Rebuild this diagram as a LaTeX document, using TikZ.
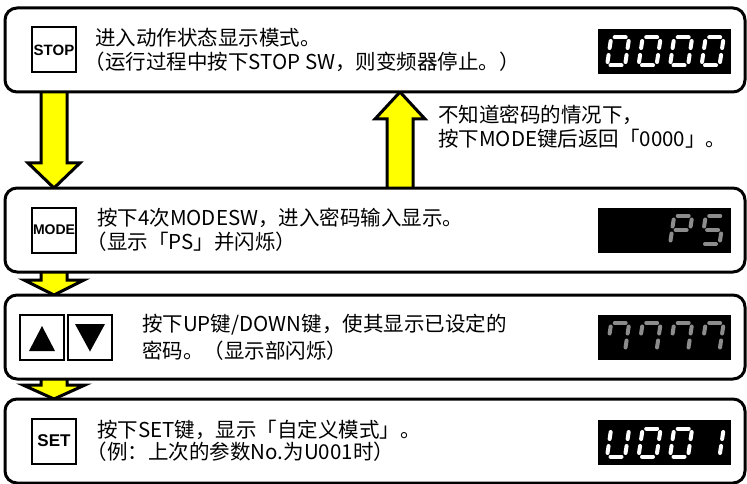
\documentclass[tikz,border=0pt]{standalone}
\usepackage{fontspec}
\setmainfont{Noto Sans CJK SC}
\newfontfamily\keyfont{Liberation Sans}
\usetikzlibrary{positioning, calc, backgrounds}

\definecolor{arrowyellow}{RGB}{255,255,0}
\definecolor{segdim}{RGB}{140,140,140}

% one digit of a seven segment display: position, segments, colour
\newcommand{\sevenseg}[3]{%
  \begin{scope}[shift={#1}, xslant=0.15]
    \foreach \s/\xa/\ya/\xb/\yb in {a/3.5/28/14.5/28, b/18/24.5/18/17.5,
        c/18/10.5/18/3.5, d/3.5/0/14.5/0, e/0/10.5/0/3.5,
        f/0/24.5/0/17.5, g/3.5/14/14.5/14}{
      \coordinate (\s1) at (\xa,\ya);
      \coordinate (\s2) at (\xb,\yb);
    }
    \foreach \s in {#2}
      \draw[segment, #3] (\s1) -- (\s2);
  \end{scope}}

% fat yellow arrow: from, to, shaft half width, head half width, head length
\newcommand{\blockarrow}[5]{%
  \draw[bigarrow] let \p1=#1, \p2=#2, \p3=($#2!#5!#1$) in
    (\x1-#3,\y1) -- (\x1-#3,\y3) -- (\x1-#4,\y3) -- (\x2,\y2)
    -- (\x1+#4,\y3) -- (\x1+#3,\y3) -- (\x1+#3,\y1);}

% pull a leading full-width bracket back to the margin
\newcommand{\lb}{\kern-0.5em}

\begin{document}
\begin{tikzpicture}[
    x=1pt, y=1pt,
    panel/.style={
        draw,
        line width=3pt,
        rounded corners=12pt,
        fill=white,
        minimum width=740pt,
        minimum height=84pt,
        inner sep=0pt,
        outer sep=0pt
    },
    keybox/.style={
        draw,
        line width=2pt,
        minimum width=44pt,
        minimum height=45pt,
        inner sep=0pt,
        outer sep=0pt
    },
    keylabel/.style={
        font=\keyfont\bfseries\fontsize{#1}{#1}\selectfont
    },
    textblk/.style={
        anchor=west,
        align=left,
        inner sep=0pt,
        font=\fontsize{20.5}{24}\selectfont
    },
    display/.style={
        fill=black,
        minimum width=133pt,
        minimum height=45pt,
        inner sep=0pt,
        outer sep=0pt
    },
    segment/.style={
        line width=4pt,
        line cap=round
    },
    bigarrow/.style={
        draw,
        fill=arrowyellow,
        line width=3pt,
        line join=miter
    }
]
\useasboundingbox (0,0) rectangle (747,-484);

\node[panel] (stopbox) at (375,-50) {};
\node[panel, below=96pt of stopbox] (modebox) {};
\node[panel, below=23pt of modebox] (pwdbox) {};
\node[panel, below=20pt of pwdbox] (setbox) {};

% keys
\node[keybox, keylabel=15, right=27pt of stopbox.west] (stopkey) {STOP};
\node[keybox, keylabel=14, right=27pt of modebox.west] (modekey) {MODE};
\node[keybox, right=15pt of pwdbox.west] (upkey) {};
\node[keybox, right=4pt of upkey] (downkey) {};
\node[keybox, keylabel=17, right=27pt of setbox.west] (setkey) {SET};

\fill (upkey.center) ++(0,11) -- ++(13,-25) -- ++(-26,0) -- cycle;
\fill (downkey.center) ++(0,-14.5) -- ++(15,27.5) -- ++(-30,0) -- cycle;

% texts
\node[textblk, right=19pt of stopkey] (stoptext)
{进入动作状态显示模式。\\\lb（运行过程中按下STOP SW，则变频器停止。）};

\node[textblk, right=21pt of modekey] (modetext)
{按下4次MODESW，进入密码输入显示。\\\lb（显示「PS」并闪烁）};

\node[textblk, right=30pt of downkey] (pwdtext)
{按下UP键/DOWN键，使其显示已设定的\\[3pt]密码。（显示部闪烁）};

\node[textblk, right=21pt of setkey] (settext)
{按下SET键，显示「自定义模式」。\\[-2pt]\lb（例：上次的参数No.为U001时）};

% displays
\node[display, left=14pt of stopbox.east, yshift=-1.5pt] (disp1) {};
\node[display, left=14pt of modebox.east] (disp2) {};
\node[display, left=14pt of pwdbox.east] (disp3) {};
\node[display, left=14pt of setbox.east, yshift=-1.5pt] (disp4) {};

\foreach \dx in {-57.5,-26,5.5,37}
  \sevenseg{($(disp1.center)+(\dx,-14)$)}{a,b,c,d,e,f}{white};

\sevenseg{($(disp2.center)+(5.5,-14)$)}{a,b,e,f,g}{segdim};
\sevenseg{($(disp2.center)+(37,-14)$)}{a,c,d,f,g}{segdim};

\foreach \dx in {-57.5,-26,5.5,37}
  \sevenseg{($(disp3.center)+(\dx,-14)$)}{a,b,c,f}{segdim};

\sevenseg{($(disp4.center)+(-57.5,-14)$)}{b,c,d,e,f}{white};
\sevenseg{($(disp4.center)+(-26,-14)$)}{a,b,c,d,e,f}{white};
\sevenseg{($(disp4.center)+(5.5,-14)$)}{a,b,c,d,e,f}{white};
\sevenseg{($(disp4.center)+(37,-14)$)}{b,c}{white};

% arrows
\coordinate (leftx) at (54,0);
\coordinate (backx) at (400,0);

\begin{scope}[on background layer]
\blockarrow{(stopbox.south -| leftx)}{(modebox.north -| leftx)}{13pt}{26pt}{25pt}
\blockarrow{(modebox.north -| backx)}{(stopbox.south -| backx)}{13pt}{25pt}{27pt}
\blockarrow{(modebox.south -| leftx)}{(pwdbox.north -| leftx)}{13pt}{30pt}{15pt}
\blockarrow{(pwdbox.south -| leftx)}{(setbox.north -| leftx)}{13pt}{31pt}{14pt}
\end{scope}

\node[textblk] (hint) at ($(stopbox.south -| backx)+(38,-35)$)
{不知道密码的情况下，\\按下MODE键后返回「0000」。};
\end{tikzpicture}
\end{document}
